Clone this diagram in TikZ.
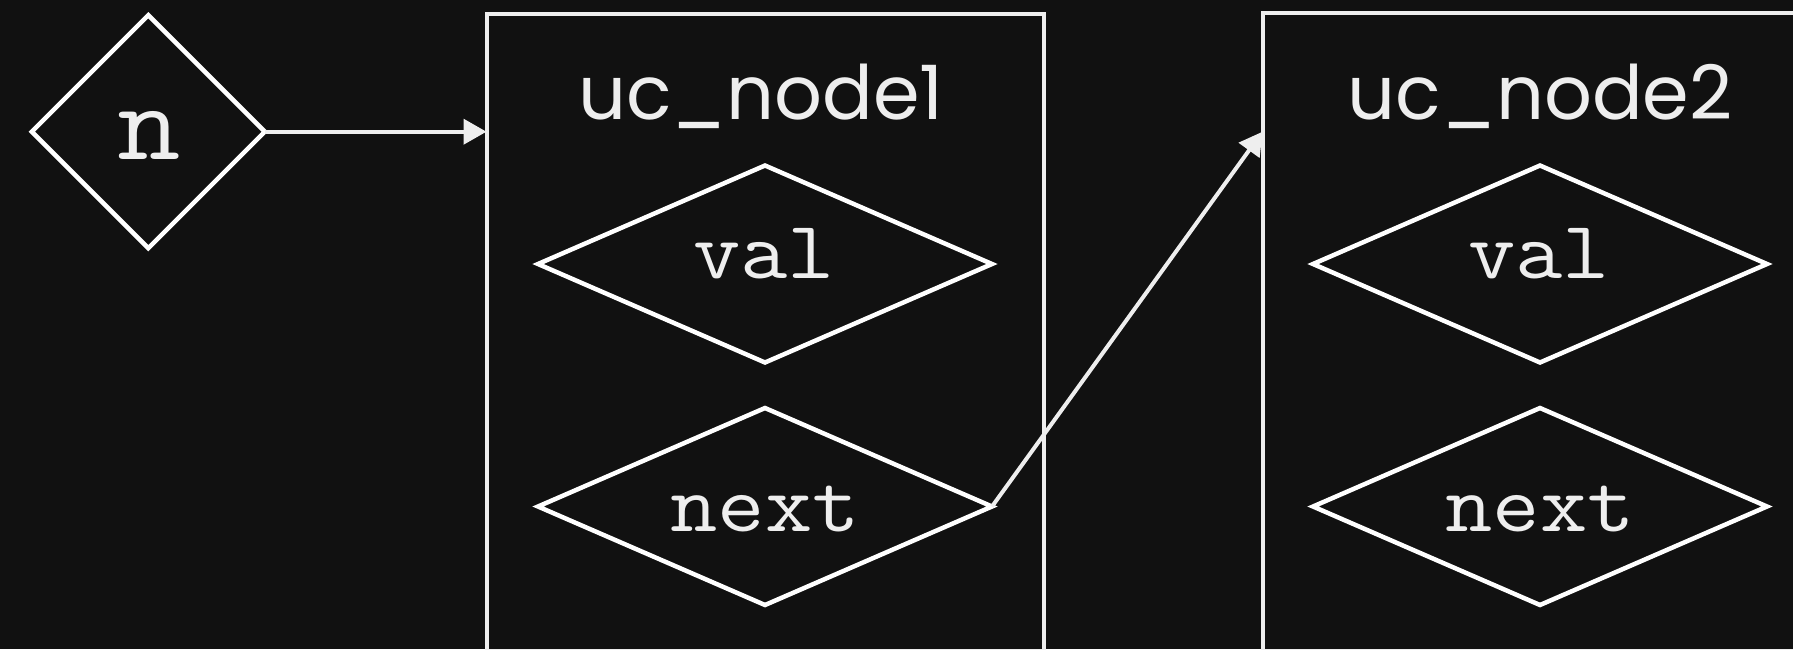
\documentclass[tikz,border=0pt]{standalone}
\usepackage{fontspec}
\usepackage{graphicx}
\setmainfont{Poppins}
\newcommand{\codefont}{\ttfamily\addfontfeatures{FakeBold=1}}
\newcommand{\cw}[1]{\scalebox{1.12}[1]{#1}}
\usetikzlibrary{shapes.geometric,arrows.meta}
\definecolor{bg}{HTML}{111111}
\definecolor{fg}{HTML}{EEEEEE}
\tikzset{
  cbox/.style={draw=fg, line width=4pt, rectangle, inner sep=0pt, outer sep=0pt},
  dia/.style={draw=white, line width=4.5pt, diamond, inner sep=0pt, outer sep=0pt},
  ttl/.style={text=fg, anchor=base, inner sep=0pt, font=\fontsize{75}{85}\selectfont},
  code/.style={text=fg, anchor=base, inner sep=0pt, font=\codefont\fontsize{82}{95}\selectfont},
  conn/.style={draw=fg, line width=4pt, -{Triangle[length=23pt,width=25pt]}},
}
\begin{document}
\begin{tikzpicture}[x=1pt,y=-1pt]
\useasboundingbox (0,0) rectangle (1793,649);
\fill[bg] (0,0) rectangle (1793,649);
\begin{scope}
\clip (0,0) rectangle (1793,649);
% containers
\node[cbox, minimum width=557.5pt, minimum height=636.5pt] (box1) at (765.25,332.25) {};
\node[cbox, minimum width=557.5pt, minimum height=637.5pt] (box2) at (1541.25,331.75) {};
\node[ttl] (t1) at (761,119) {uc\_node1};
\node[ttl] (t2) at (1540,119) {uc\_node2};
% n
\node[dia, minimum width=233pt, minimum height=233pt] (n) at (148.3,131.7) {};
\node[code, font=\codefont\fontsize{110}{120}\selectfont] (nt) at (149,159) {\cw{n}};
% uc_node1 fields
\node[dia, minimum width=454pt, minimum height=197pt] (val1) at (765,264) {};
\node[code] (val1t) at (764,278) {\cw{val}};
\node[dia, minimum width=454pt, minimum height=197pt] (next1) at (765,506.5) {};
\node[code] (next1t) at (765,531) {\cw{next}};
% uc_node2 fields
\node[dia, minimum width=454pt, minimum height=197pt] (val2) at (1540,264) {};
\node[code] (val2t) at (1539,278) {\cw{val}};
\node[dia, minimum width=454pt, minimum height=197pt] (next2) at (1540,506.5) {};
\node[code] (next2t) at (1540,531) {\cw{next}};
% connectors
\draw[conn] (n.east) -- (n.east -| box1.west);
\draw[conn] (next1.east) -- (n.east -| box2.west);
\end{scope}
\end{tikzpicture}
\end{document}
